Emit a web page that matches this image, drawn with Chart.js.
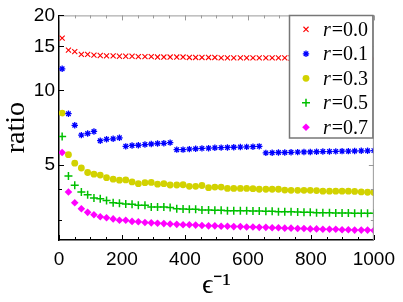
<!DOCTYPE html>
<html lang="en">
<head>
<meta charset="UTF-8">
<title>ratio vs inverse epsilon</title>
<script src="https://cdn.jsdelivr.net/npm/chart.js@4.4.0/dist/chart.umd.min.js"></script>
<style>
  html, body { margin: 0; padding: 0; background: #fff; }
  #wrap { position: relative; width: 403px; height: 302px; }
</style>
</head>
<body>
<div id="wrap"><canvas id="ratioChart" width="403" height="302"></canvas></div>
<script>
// x values (1/epsilon)
const invEps = [10, 30, 50, 71, 91, 111, 131, 151, 172, 192, 212, 232, 252, 273, 293, 313, 333, 353, 374, 394,
                414, 434, 454, 475, 495, 515, 535, 555, 576, 596, 616, 636, 657, 677, 697, 717, 737, 758, 778, 798,
                818, 838, 859, 879, 899, 919, 939, 960, 980, 1000];

// ratio for each r
const r00 = [16.2, 14.5, 14.3, 13.95, 13.95, 13.85, 13.8, 13.75, 13.75, 13.7, 13.7, 13.7, 13.65, 13.65, 13.65, 13.6, 13.6, 13.6, 13.6, 13.6,
             13.55, 13.55, 13.55, 13.55, 13.55, 13.5, 13.5, 13.5, 13.5, 13.5, 13.5, 13.5, 13.5, 13.5, 13.5, 13.5, 13.48, 13.48, 13.48, 13.47,
             13.47, 13.47, 13.46, 13.46, 13.45, 13.45, 13.45, 13.44, 13.44, 13.4];
const r01 = [12.2, 8.05, 7.23, 6.6, 6.7, 6.83, 6.27, 6.35, 6.38, 6.44, 5.95, 6.0, 6.01, 6.05, 6.08, 6.11, 6.12, 6.16, 5.77, 5.77,
             5.8, 5.82, 5.84, 5.85, 5.87, 5.88, 5.89, 5.9, 5.91, 5.92, 5.93, 5.95, 5.6, 5.61, 5.62, 5.62, 5.63, 5.64, 5.65, 5.65,
             5.66, 5.67, 5.67, 5.68, 5.69, 5.69, 5.7, 5.71, 5.71, 5.72];
const r03 = [8.1, 5.51, 5.09, 4.87, 4.67, 4.6, 4.56, 4.45, 4.39, 4.35, 4.36, 4.28, 4.21, 4.25, 4.26, 4.19, 4.21, 4.16, 4.16, 4.17,
             4.11, 4.11, 4.14, 4.06, 4.08, 4.08, 4.03, 4.03, 4.03, 4.03, 4.02, 4.0, 4.0, 4.0, 4.0, 3.97, 3.96, 3.96, 3.96, 3.96,
             3.95, 3.93, 3.93, 3.93, 3.93, 3.93, 3.92, 3.9, 3.89, 3.88];
const r05 = [6.52, 4.52, 4.15, 3.9, 3.8, 3.69, 3.66, 3.6, 3.53, 3.51, 3.49, 3.48, 3.45, 3.45, 3.39, 3.39, 3.39, 3.38, 3.34, 3.33,
             3.32, 3.32, 3.3, 3.3, 3.29, 3.29, 3.28, 3.28, 3.28, 3.28, 3.27, 3.27, 3.26, 3.26, 3.25, 3.25, 3.25, 3.24, 3.23, 3.23,
             3.22, 3.22, 3.22, 3.21, 3.21, 3.21, 3.2, 3.2, 3.2, 3.2];
const r07 = [5.62, 3.9, 3.53, 3.34, 3.23, 3.16, 3.1, 3.07, 3.04, 3.0, 3.0, 2.97, 2.96, 2.94, 2.93, 2.92, 2.91, 2.9, 2.89, 2.88,
             2.88, 2.87, 2.86, 2.85, 2.85, 2.84, 2.84, 2.83, 2.83, 2.82, 2.82, 2.81, 2.81, 2.8, 2.8, 2.79, 2.79, 2.78, 2.78, 2.77,
             2.77, 2.76, 2.76, 2.76, 2.75, 2.75, 2.74, 2.74, 2.74, 2.73];

const seriesLabels = ['0.0', '0.1', '0.3', '0.5', '0.7'];
const xTicks = [0, 200, 400, 600, 800, 1000];
const yTicks = [5, 10, 15, 20];
const yMinorTicks = [3, 4];

const styles = [
    { pointStyle: 'crossRot', radius: 3.6, color: '#ff0000', fill: false, borderWidth: 1.1 },
    { pointStyle: 'star', radius: 3.2, color: '#0000ff', fill: false, borderWidth: 1.3 },
    { pointStyle: 'circle', radius: 3.4, color: '#d2d200', fill: true, borderWidth: 0 },
    { pointStyle: 'cross', radius: 4, color: '#00c000', fill: false, borderWidth: 1.5 },
    { pointStyle: 'rectRot', radius: 3.8, color: '#ff00ff', fill: true, borderWidth: 0 }
];
const seriesValues = [r00, r01, r03, r05, r07];

const datasets = seriesValues.map((vals, k) => ({
    label: 'r=' + seriesLabels[k],
    data: invEps.map((x, i) => ({ x: x, y: vals[i] })),
    showLine: false,
    pointStyle: styles[k].pointStyle,
    pointRadius: styles[k].radius,
    pointBorderWidth: styles[k].borderWidth,
    borderColor: styles[k].color,
    backgroundColor: styles[k].color,
    clip: 0
}));

// frame on top/right, inward ticks on all four sides
const frameTicks = {
    id: 'frameTicks',
    afterDatasetsDraw(chart) {
        const { ctx, chartArea: a, scales: { x, y } } = chart;
        ctx.save();
        ctx.lineWidth = 1;
        ctx.strokeStyle = '#999';
        ctx.beginPath();
        ctx.moveTo(a.left, a.top + 0.5); ctx.lineTo(a.right, a.top + 0.5);
        ctx.moveTo(a.right - 0.5, a.top); ctx.lineTo(a.right - 0.5, a.bottom);
        ctx.stroke();

        for (let v = 0; v <= 1000; v += 50) {
            const px = Math.round(x.getPixelForValue(v)) + 0.5;
            const len = xTicks.includes(v) ? 5 : 3;
            ctx.strokeStyle = '#000';
            ctx.beginPath(); ctx.moveTo(px, a.bottom); ctx.lineTo(px, a.bottom - len); ctx.stroke();
            ctx.strokeStyle = '#999';
            ctx.beginPath(); ctx.moveTo(px, a.top); ctx.lineTo(px, a.top + len); ctx.stroke();
        }
        yTicks.concat(yMinorTicks).forEach(v => {
            const py = Math.round(y.getPixelForValue(v)) + 0.5;
            const len = yTicks.includes(v) ? 5 : 3;
            ctx.strokeStyle = '#000';
            ctx.beginPath(); ctx.moveTo(a.left, py); ctx.lineTo(a.left + len, py); ctx.stroke();
            ctx.strokeStyle = '#999';
            ctx.beginPath(); ctx.moveTo(a.right, py); ctx.lineTo(a.right - len, py); ctx.stroke();
        });
        ctx.restore();
    },
    afterDraw(chart) {
        const { ctx, chartArea: a } = chart;
        const bx = 289.5, by = 15.5, bw = a.right - 1 - bx, bh = 122.5;
        ctx.save();
        ctx.fillStyle = '#fff';
        ctx.fillRect(bx, by, bw, bh);
        ctx.strokeStyle = '#777';
        ctx.lineWidth = 1.5;
        ctx.strokeRect(bx, by, bw, bh);
        styles.forEach((s, k) => {
            const cy = 29.3 + k * 24.5;
            ctx.strokeStyle = s.color;
            ctx.fillStyle = s.color;
            ctx.lineWidth = s.borderWidth || 1;
            Chart.helpers.drawPoint(ctx, {
                pointStyle: s.pointStyle, radius: s.radius, rotation: 0, borderWidth: s.borderWidth
            }, 306, cy);
            ctx.fillStyle = '#000';
            ctx.textBaseline = 'alphabetic';
            ctx.textAlign = 'left';
            ctx.font = 'italic 20px "Liberation Serif"';
            ctx.fillText('r', 323, cy + 6.5);
            const w = ctx.measureText('r').width;
            ctx.font = '20px "Liberation Serif"';
            ctx.fillText('=' + seriesLabels[k], 323 + w + 1, cy + 6.5);
        });
        ctx.restore();
    }
};

new Chart(document.getElementById('ratioChart'), {
    type: 'scatter',
    data: { datasets: datasets },
    options: {
        responsive: false,
        animation: false,
        layout: { padding: { left: 0, top: 13, right: 25, bottom: 0 } },
        plugins: { legend: { display: false }, tooltip: { enabled: false } },
        scales: {
            x: {
                type: 'linear',
                min: 0,
                max: 1000,
                afterBuildTicks: s => { s.ticks = xTicks.map(v => ({ value: v })); },
                afterFit: s => { s.height = 62; },
                grid: { display: false, drawTicks: false },
                border: { display: true, color: '#000', width: 1.5 },
                ticks: { color: '#000', padding: 8, maxRotation: 0, autoSkip: false,
                         font: { family: 'Liberation Sans', size: 19 },
                         callback: v => String(v) },
                title: { display: true, text: 'ϵ⁻¹', color: '#000', padding: 0,
                         font: { family: 'Liberation Serif', size: 28 } }
            },
            y: {
                type: 'logarithmic',
                min: 2.5,
                max: 20,
                afterBuildTicks: s => { s.ticks = yTicks.map(v => ({ value: v })); },
                afterFit: s => { s.width = 59; },
                grid: { display: false, drawTicks: false },
                border: { display: true, color: '#000', width: 1.5 },
                ticks: { color: '#000', padding: 4, autoSkip: false,
                         font: { family: 'Liberation Sans', size: 19 },
                         callback: v => String(v) },
                title: { display: true, text: 'ratio', color: '#000', padding: 0,
                         font: { family: 'Liberation Serif', size: 28 } }
            }
        }
    },
    plugins: [frameTicks]
});
</script>
</body>
</html>
